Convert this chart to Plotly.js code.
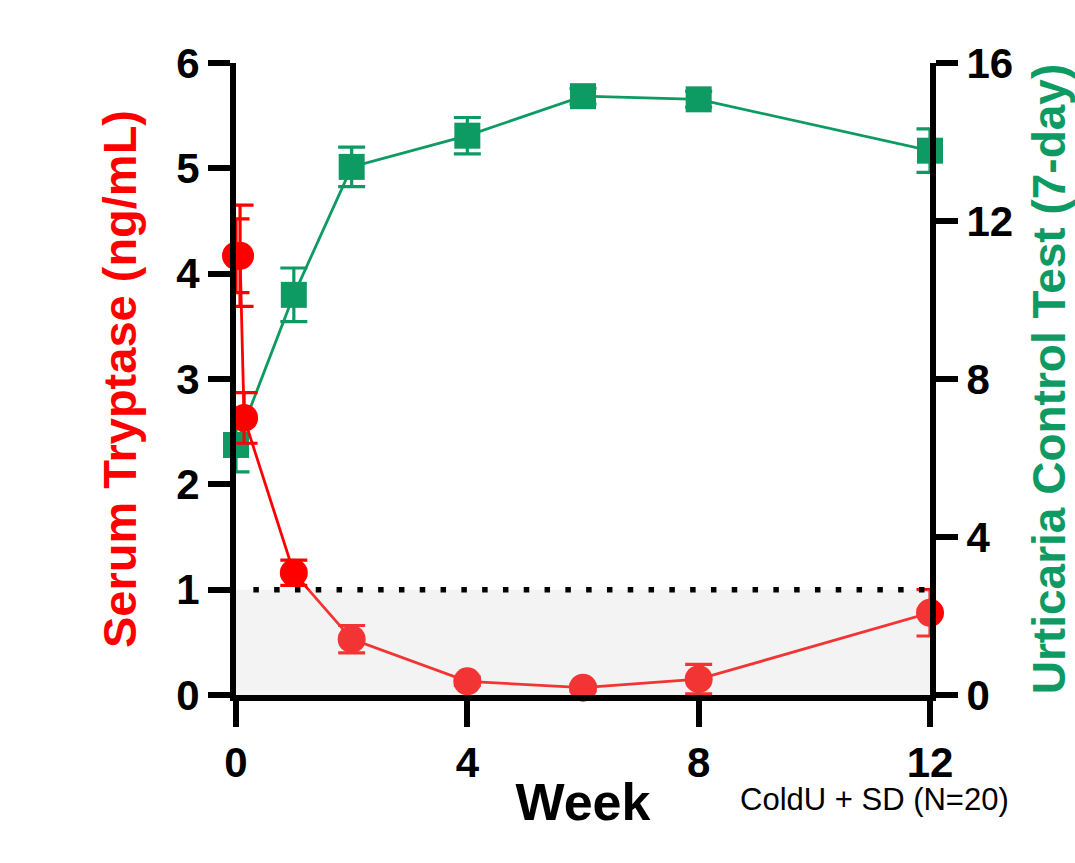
<!DOCTYPE html>
<html>
<head>
<meta charset="utf-8">
<script src="https://cdn.plot.ly/plotly-3.0.1.min.js"></script>
<style>
  html, body { margin: 0; padding: 0; background: #ffffff; }
  #chart { width: 1075px; height: 863px; }
</style>
</head>
<body>
<div id="chart"></div>
<script>
// ---- Data ----
const tryptaseWeeks = [0, 0.07, 0.14, 1, 2, 4, 6, 8, 12];
const tryptaseMean  = [4.17, 4.17, 2.63, 1.16, 0.53, 0.13, 0.07, 0.15, 0.78];
const tryptaseSD    = [0.35, 0.48, 0.24, 0.12, 0.13, 0.04, 0.03, 0.14, 0.22];

const uctWeeks = [0, 1, 2, 4, 6, 8, 12];
const uctMean  = [6.33, 10.13, 13.37, 14.16, 15.16, 15.08, 13.78];
const uctSD    = [0.68, 0.68, 0.50, 0.46, 0.20, 0.20, 0.55];

const xTicks     = [0, 4, 8, 12];
const leftTicks  = [0, 1, 2, 3, 4, 5, 6];
const rightTicks = [0, 4, 8, 12, 16];

const normalLimit = 1;          // ng/mL reference line
const noteText = 'ColdU + SD (N=20)';

// ---- Styles ----
const RED = '#ff0000';
const GREEN = '#0e9a63';
const FONT = 'Liberation Sans, Arial, sans-serif';

const uctTrace = {
  x: uctWeeks, y: uctMean, yaxis: 'y', xaxis: 'x',
  type: 'scatter', mode: 'lines+markers', name: 'UCT',
  line: { color: GREEN, width: 2.8 },
  marker: { symbol: 'square', size: 26, color: GREEN },
  error_y: { type: 'data', array: uctSD, visible: true, color: GREEN, thickness: 3.2, width: 13.5 },
  cliponaxis: false, showlegend: false
};

const tryptaseTrace = {
  x: tryptaseWeeks, y: tryptaseMean, yaxis: 'y2', xaxis: 'x',
  type: 'scatter', mode: 'lines+markers', name: 'Tryptase',
  line: { color: RED, width: 2.8 },
  marker: { symbol: 'circle', size: 28, color: RED },
  error_y: { type: 'data', array: tryptaseSD, visible: true, color: RED, thickness: 3.2, width: 13.5 },
  cliponaxis: false, showlegend: false
};

const tickFont = { family: FONT, size: 42, color: '#000000', weight: 'bold' };

const layout = {
  width: 1075, height: 863,
  paper_bgcolor: '#ffffff', plot_bgcolor: 'rgba(0,0,0,0)',
  margin: { l: 236, r: 145, t: 63, b: 168 },
  showlegend: false,
  xaxis: {
    range: [0, 12], tickvals: xTicks, ticktext: xTicks.map(String),
    showgrid: false, zeroline: false,
    showline: true, linecolor: '#000000', linewidth: 6,
    ticks: 'outside', ticklen: 26, tickwidth: 6, tickcolor: '#000000',
    tickfont: tickFont,
    title: { text: 'Week', font: { family: FONT, size: 52, color: '#000000', weight: 'bold' }, standoff: 0 },
    automargin: false
  },
  yaxis: {
    range: [0, 16], tickvals: rightTicks, side: 'right',
    showgrid: false, zeroline: false,
    showline: true, linecolor: '#000000', linewidth: 6,
    ticks: 'outside', ticklen: 22, tickwidth: 6, tickcolor: '#000000',
    tickfont: tickFont,
    title: { text: 'Urticaria Control Test (7-day)', font: { family: FONT, size: 46, color: GREEN, weight: 'bold' }, standoff: 37 },
    automargin: false
  },
  yaxis2: {
    range: [0, 6], tickvals: leftTicks, side: 'left', overlaying: 'y',
    showgrid: false, zeroline: false,
    showline: true, linecolor: '#000000', linewidth: 6,
    ticks: 'outside', ticklen: 22, tickwidth: 6, tickcolor: '#000000',
    tickfont: tickFont,
    title: { text: 'Serum Tryptase (ng/mL)', font: { family: FONT, size: 47, color: RED, weight: 'bold' }, standoff: 27 },
    automargin: false
  },
  shapes: [
    { type: 'rect', xref: 'x', yref: 'y2', x0: 0, x1: 12, y0: 0, y1: normalLimit,
      fillcolor: 'rgba(206,206,206,0.25)', line: { width: 0 }, layer: 'above' },
    { type: 'line', xref: 'x', yref: 'y2', x0: 0.3, x1: 12, y0: normalLimit, y1: normalLimit,
      line: { color: '#000000', width: 5.5, dash: '5.5px,15.3px' }, layer: 'above' }
  ],
  annotations: [
    { text: noteText, xref: 'paper', yref: 'paper', x: 0.9207, y: -0.166,
      xanchor: 'center', yanchor: 'middle', showarrow: false,
      font: { family: FONT, size: 31, color: '#000000' } }
  ]
};

Plotly.newPlot('chart', [uctTrace, tryptaseTrace], layout, { displayModeBar: false, staticPlot: true });
</script>
</body>
</html>
